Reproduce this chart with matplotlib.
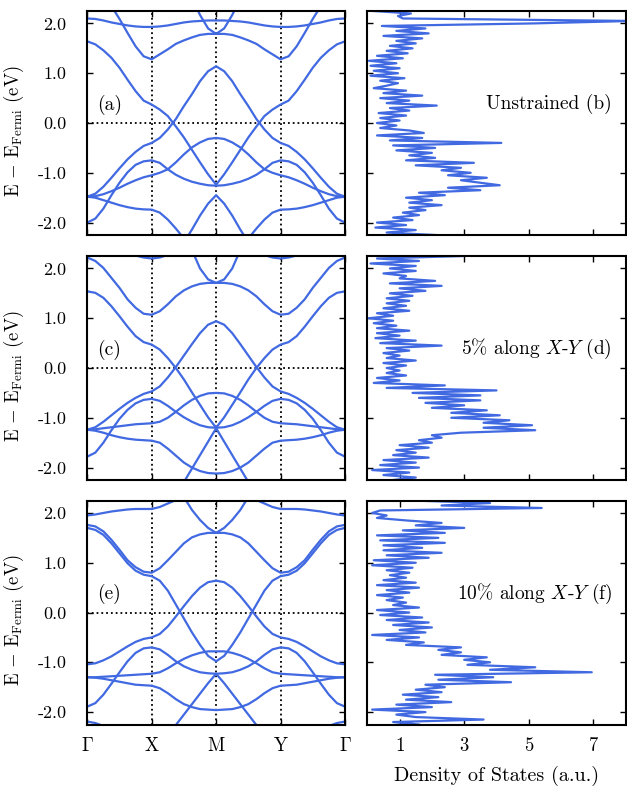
import numpy as np
import matplotlib.pyplot as plt

plt.rcParams['font.family'] = 'serif'
plt.rcParams['font.serif'] = ['cmr10']
plt.rcParams['mathtext.fontset'] = 'cm'
plt.rcParams['axes.unicode_minus'] = False

nan = np.nan
blue = '#4169e1'

# k points from Gamma to M (8 steps per segment); the M-Y-Gamma half mirrors it
k_half = np.arange(17) / 8
path_labels = [r'$\Gamma$', 'X', 'M', 'Y', r'$\Gamma$']

# band energies (eV) along Gamma-X-M, unstrained
bands_a = [
    [2.10, 2.09, 2.06, 2.02, 1.99, 1.96, 1.94, 1.93, 1.93, 1.94, 1.96, 1.99, 2.02, 2.04, 2.05, 2.06, 2.06],
    [2.95, 2.80, 2.60, 2.35, 2.09, 1.81, 1.54, 1.34, 1.28, 1.38, 1.48, 1.59, 1.66, 1.72, 1.77, 1.79, 1.79],
    [nan, nan, nan, nan, nan, nan, nan, nan, nan, nan, nan, 3.20, 2.85, 2.50, 2.17, 1.90, 1.79],
    [1.64, 1.58, 1.46, 1.31, 1.11, 0.87, 0.64, 0.45, 0.37, 0.27, 0.14, -0.07, -0.29, -0.54, -0.79, -1.03, -1.24],
    [-1.48, -1.42, -1.28, -1.10, -0.91, -0.73, -0.58, -0.46, -0.40, -0.30, -0.13, 0.08, 0.34, 0.58, 0.84, 1.04, 1.14],
    [-1.48, -1.47, -1.43, -1.37, -1.30, -1.22, -1.15, -1.09, -1.05, -1.00, -0.93, -0.79, -0.63, -0.49, -0.39, -0.32, -0.30],
    [-2.00, -1.92, -1.72, -1.45, -1.20, -0.99, -0.84, -0.77, -0.75, -0.80, -0.93, -1.04, -1.12, -1.18, -1.22, -1.25, -1.26],
    [-1.48, -1.50, -1.55, -1.60, -1.65, -1.69, -1.72, -1.735, -1.74, -1.80, -1.94, -2.12, -2.32, -2.52, nan, nan, nan],
    [nan, nan, nan, nan, nan, nan, nan, nan, nan, nan, nan, -2.62, -2.40, -2.14, -1.86, -1.62, -1.45],
]

# 5% strain along X-Y
bands_c = [
    [nan, nan, 2.60, 2.48, 2.38, 2.31, 2.26, 2.22, 2.20, 2.22, 2.27, 2.34, 2.42, 2.50, nan, nan, nan],
    [2.22, 2.15, 2.01, 1.81, 1.61, 1.38, 1.21, 1.09, 1.07, 1.14, 1.28, 1.44, 1.56, 1.64, 1.69, 1.71, 1.71],
    [nan, nan, nan, nan, nan, nan, nan, nan, nan, nan, nan, 3.20, 2.80, 2.37, 2.00, 1.78, 1.71],
    [1.54, 1.51, 1.41, 1.24, 1.04, 0.83, 0.64, 0.52, 0.47, 0.37, 0.20, 0.00, -0.23, -0.49, -0.74, -0.99, -1.20],
    [-1.24, -1.19, -1.08, -0.95, -0.82, -0.70, -0.60, -0.52, -0.47, -0.37, -0.19, 0.02, 0.25, 0.48, 0.70, 0.87, 0.94],
    [-1.24, -1.23, -1.21, -1.19, -1.17, -1.15, -1.13, -1.12, -1.11, -1.08, -1.00, -0.88, -0.75, -0.64, -0.56, -0.51, -0.50],
    [-1.78, -1.70, -1.50, -1.25, -1.02, -0.84, -0.71, -0.64, -0.62, -0.66, -0.76, -0.88, -0.99, -1.08, -1.15, -1.19, -1.20],
    [-1.24, -1.26, -1.30, -1.35, -1.39, -1.42, -1.44, -1.45, -1.46, -1.50, -1.62, -1.76, -1.90, -2.00, -2.07, -2.11, -2.12],
    [nan, nan, nan, nan, nan, nan, nan, nan, nan, nan, nan, -2.56, -2.29, -2.02, -1.75, -1.48, -1.21],
]

# 10% strain along X-Y
bands_e = [
    [1.95, 1.97, 2.00, 2.03, 2.05, 2.07, 2.08, 2.08, 2.08, 2.12, 2.19, 2.26, 2.35, 2.45, nan, nan, nan],
    [nan, nan, nan, nan, nan, nan, nan, nan, nan, nan, nan, 2.60, 2.32, 2.06, 1.86, 1.70, 1.60],
    [1.76, 1.73, 1.63, 1.46, 1.26, 1.05, 0.91, 0.82, 0.80, 0.89, 1.05, 1.22, 1.39, 1.51, 1.57, 1.60, 1.60],
    [1.70, 1.66, 1.56, 1.39, 1.19, 0.99, 0.84, 0.76, 0.73, 0.64, 0.44, 0.16, -0.12, -0.40, -0.65, -0.87, -0.98],
    [-1.04, -1.02, -0.96, -0.88, -0.78, -0.68, -0.59, -0.53, -0.50, -0.43, -0.28, -0.08, 0.13, 0.33, 0.50, 0.61, 0.64],
    [-1.30, -1.30, -1.29, -1.28, -1.27, -1.26, -1.25, -1.24, -1.23, -1.20, -1.12, -1.02, -0.93, -0.86, -0.81, -0.78, -0.78],
    [-1.30, -1.31, -1.33, -1.36, -1.39, -1.42, -1.45, -1.46, -1.47, -1.52, -1.62, -1.74, -1.84, -1.90, -1.94, -1.95, -1.96],
    [-1.89, -1.82, -1.65, -1.43, -1.20, -0.98, -0.81, -0.72, -0.70, -0.74, -0.85, -0.98, -1.08, -1.15, -1.20, -1.22, -1.23],
    [nan, nan, nan, nan, nan, nan, nan, nan, nan, nan, -2.47, -2.26, -2.05, -1.84, -1.63, -1.42, -1.23],
    [-2.19, -2.22, -2.28, -2.36, nan, nan, nan, nan, nan, nan, nan, nan, nan, nan, nan, nan, nan],
]

# density of states, energies from 2.25 eV down to -2.25 eV in 0.05 eV steps
dos_energy = np.round(np.arange(2.25, -2.2501, -0.05), 2)

dos_b = [0.2, 1.35, 0.95, 1.1, 8.2, 5.1, 0.45, 1.8, 0.9, 1.9,
         0.5, 1.7, 0.9, 1.5, 0.7, 1.4, 0.6, 1.25, 0.3, 1.1,
         0.05, 0.9, 0.1, 1.0, 0.2, 0.95, 0.1, 1.15, 0.4, 0.95,
         0.6, 0.2, 1.2, 0.5, 1.7, 0.4, 1.3, 0.6, 2.15, 0.7,
         1.3, 0.35, 1.2, 0.4, 1.0, 0.3, 0.9, 0.4, 1.3, 1.75,
         0.3, 1.7, 0.7, 4.15, 0.8, 2.1, 0.9, 2.0, 1.3, 2.1,
         1.2, 3.3, 1.5, 2.9, 2.3, 3.2, 2.5, 3.7, 2.9, 3.5,
         4.1, 2.5, 3.5, 1.6, 2.4, 1.2, 2.0, 1.3, 2.3, 1.3,
         1.8, 1.1, 1.6, 0.8, 1.4, 0.3, 1.2, 0.25, 1.5, 0.6,
         2.1]

dos_d = [3.0, 0.3, 1.6, 0.1, 1.5, 0.7, 1.5, 0.5, 1.2, 1.0,
         2.1, 0.7, 2.3, 1.0, 1.8, 0.7, 1.4, 0.6, 1.3, 0.6,
         1.2, 0.5, 1.3, 0.3, 0.8, 0.05, 0.8, 0.2, 0.9, 0.3,
         1.3, 0.3, 1.0, 0.25, 1.5, 0.4, 2.3, 0.6, 1.3, 0.5,
         1.0, 0.6, 1.5, 0.5, 1.2, 0.6, 1.0, 0.6, 1.2, 0.3,
         1.0, 0.2, 2.4, 0.6, 4.0, 1.4, 3.5, 1.6, 3.5, 1.8,
         3.0, 2.0, 3.7, 2.6, 4.1, 2.6, 4.4, 3.6, 5.1, 3.6,
         5.2, 2.9, 2.0, 2.3, 1.6, 2.0, 1.0, 1.9, 0.9, 1.5,
         0.8, 1.9, 0.5, 1.5, 0.4, 1.6, 0.15, 1.3, 0.5, 1.5,
         0.8]

dos_f = [1.4, 3.8, 2.3, 5.4, 0.4, 0.15, 0.6, 0.3, 1.2, 2.3,
         1.5, 3.0, 1.1, 2.4, 0.3, 2.2, 0.4, 2.4, 0.5, 1.7,
         0.5, 2.3, 0.6, 1.9, 0.2, 1.5, 0.15, 1.4, 0.6, 1.3,
         0.7, 1.2, 0.5, 1.5, 0.3, 1.6, 0.6, 1.3, 0.3, 1.1,
         0.6, 1.2, 0.8, 1.6, 0.3, 1.3, 0.4, 1.7, 0.6, 1.9,
         0.8, 2.0, 1.0, 1.8, 0.15, 1.6, 0.6, 1.75, 1.2, 2.9,
         2.2, 2.9, 2.3, 3.7, 3.0, 3.8, 3.1, 5.2, 3.8, 6.95,
         2.1, 3.9, 2.2, 4.45, 1.8, 2.4, 1.5, 2.3, 1.1, 2.2,
         1.2, 2.6, 0.9, 2.0, 0.15, 1.8, 0.9, 1.5, 3.6, 0.8,
         1.6]

panel_tags = ['(a)', '(c)', '(e)']
dos_titles = ['Unstrained (b)', r'5% along $X$-$Y$ (d)', r'10% along $X$-$Y$ (f)']

e_ticks = [-2, -1, 0, 1, 2]
e_ticklabels = ['-2.0', '-1.0', '0.0', '1.0', '2.0']


def mirror(values):
    v = np.array(values, dtype=float)
    return np.concatenate([v, v[-2::-1]])


k_full = np.concatenate([k_half, 4 - k_half[-2::-1]])

fig = plt.figure(figsize=(6.27, 7.86), dpi=100)

row_bottoms = [0.701, 0.3893, 0.0782]
row_h = 0.285

for row, (bands, dos, tag, title) in enumerate(zip([bands_a, bands_c, bands_e],
                                                    [dos_b, dos_d, dos_f],
                                                    panel_tags, dos_titles)):
    ax = fig.add_axes([0.1392, row_bottoms[row], 0.411, row_h])
    axd = fig.add_axes([0.5858, row_bottoms[row], 0.4121, row_h])

    # band structure
    ax.axhline(0, color='k', ls=':', lw=1.3, zorder=1)
    for x in (1, 2, 3):
        ax.axvline(x, color='k', ls=':', lw=1.3, zorder=1)
    for b in bands:
        ax.plot(k_full, mirror(b), color=blue, lw=1.6, zorder=2)
    ax.set_xlim(0, 4)
    ax.set_ylim(-2.25, 2.25)
    ax.set_xticks([0, 1, 2, 3, 4])
    ax.set_yticks(e_ticks)
    ax.set_yticklabels(e_ticklabels, fontsize=13)
    ax.text(0.15, 0.37, tag, ha='left', va='center', fontsize=14)
    ax.set_ylabel(r'$\mathrm{E}\,-\,\mathrm{E}_{\mathrm{Fermi}}$ (eV)', fontsize=13.5)
    ax.yaxis.set_label_coords(-0.238, 0.465)

    # density of states
    axd.plot(dos, dos_energy, color=blue, lw=1.6)
    axd.set_xlim(0, 8)
    axd.set_ylim(-2.25, 2.25)
    axd.set_xticks([1, 3, 5, 7])
    axd.set_yticks(e_ticks)
    axd.set_yticklabels([])
    axd.text(7.58, 0.38, title, ha='right', va='center', fontsize=14)

    for a in (ax, axd):
        a.tick_params(direction='in', top=True, right=True, length=4, width=1)
        a.tick_params(axis='y', pad=15)
        a.tick_params(axis='x', pad=9)
        for s in a.spines.values():
            s.set_linewidth(1.5)

    if row < 2:
        ax.set_xticklabels([])
        axd.set_xticklabels([])
    else:
        ax.set_xticklabels(path_labels, fontsize=13.5)
        axd.set_xticklabels(['1', '3', '5', '7'], fontsize=13.5)
        axd.set_xlabel('Density of States (a.u.)', fontsize=14.5, labelpad=8)

fig.savefig('out.png', dpi=100)
